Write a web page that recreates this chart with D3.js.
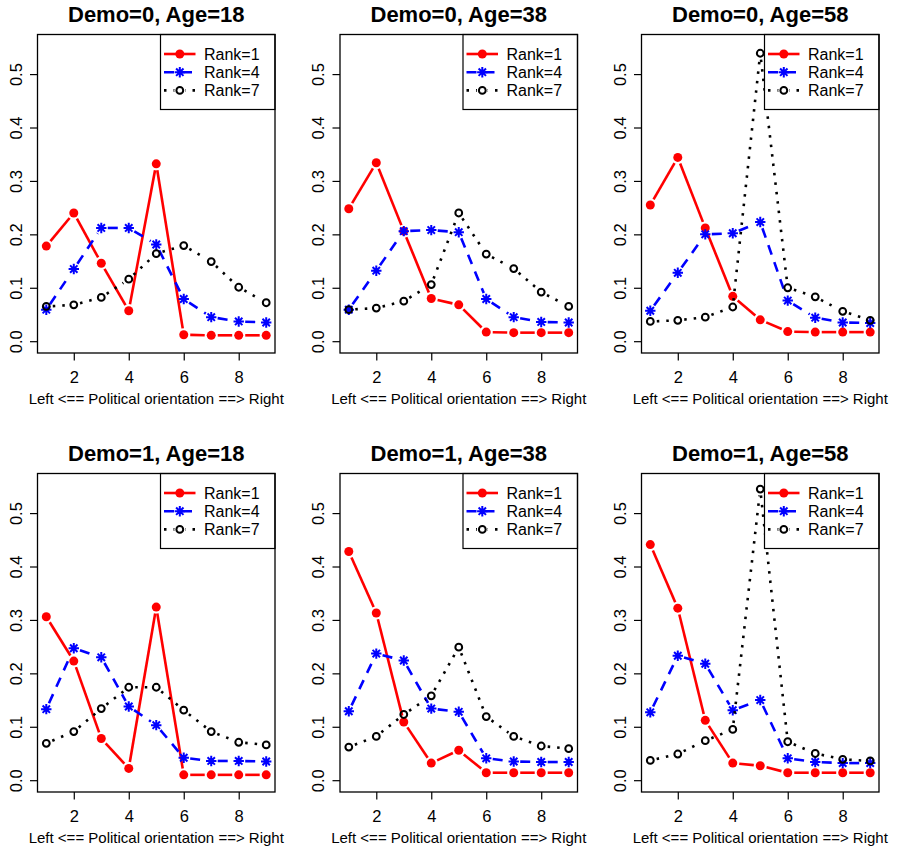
<!DOCTYPE html>
<html lang="en">
<head>
    <meta charset="UTF-8">
    <title>Political orientation by rank</title>
    <script src="https://d3js.org/d3.v7.min.js"></script>
    <style>
        body { margin: 0; background: #fff; }
        svg { display: block; font-family: "Liberation Sans", Arial, Helvetica, sans-serif; }
        .title { font-size: 22px; font-weight: bold; }
        .tick text { font-family: "Liberation Sans", Arial, sans-serif; font-size: 16.5px; fill: #000; }
        .xlab { font-size: 15px; }
        .legend text { font-size: 16px; }
    </style>
</head>
<body>
    <div id="container"></div>
    <script>
        // x positions (political orientation 1..9)
        const positions = [1, 2, 3, 4, 5, 6, 7, 8, 9];
        const rankLabels = ["Rank=1", "Rank=4", "Rank=7"];
        const panelTitles = [
            "Demo=0, Age=18", "Demo=0, Age=38", "Demo=0, Age=58",
            "Demo=1, Age=18", "Demo=1, Age=38", "Demo=1, Age=58"
        ];
        const xTicks = [2, 4, 6, 8];
        const yTicks = [0, 0.1, 0.2, 0.3, 0.4, 0.5];

        // one row per panel
        const rank1 = [
            [0.178, 0.240, 0.146, 0.057, 0.332, 0.012, 0.011, 0.011, 0.011],
            [0.248, 0.334, 0.206, 0.080, 0.068, 0.017, 0.016, 0.016, 0.016],
            [0.255, 0.344, 0.212, 0.084, 0.040, 0.018, 0.017, 0.017, 0.017],
            [0.306, 0.223, 0.078, 0.022, 0.324, 0.010, 0.010, 0.010, 0.010],
            [0.428, 0.313, 0.109, 0.032, 0.056, 0.014, 0.014, 0.014, 0.014],
            [0.441, 0.322, 0.112, 0.032, 0.027, 0.014, 0.014, 0.014, 0.014]
        ];
        const rank4 = [
            [0.059, 0.135, 0.212, 0.212, 0.181, 0.079, 0.045, 0.037, 0.035],
            [0.059, 0.132, 0.206, 0.208, 0.204, 0.079, 0.045, 0.036, 0.035],
            [0.057, 0.128, 0.200, 0.202, 0.223, 0.076, 0.044, 0.035, 0.034],
            [0.133, 0.247, 0.230, 0.138, 0.103, 0.042, 0.036, 0.036, 0.035],
            [0.129, 0.237, 0.224, 0.134, 0.128, 0.041, 0.035, 0.034, 0.034],
            [0.127, 0.233, 0.218, 0.131, 0.150, 0.041, 0.034, 0.032, 0.032]
        ];
        const rank7 = [
            [0.065, 0.068, 0.082, 0.116, 0.164, 0.179, 0.149, 0.101, 0.072],
            [0.059, 0.062, 0.075, 0.106, 0.240, 0.163, 0.136, 0.092, 0.065],
            [0.037, 0.039, 0.045, 0.064, 0.539, 0.100, 0.083, 0.056, 0.039],
            [0.069, 0.091, 0.134, 0.174, 0.174, 0.131, 0.091, 0.071, 0.066],
            [0.062, 0.082, 0.123, 0.158, 0.249, 0.119, 0.082, 0.064, 0.059],
            [0.037, 0.049, 0.074, 0.095, 0.545, 0.072, 0.050, 0.039, 0.036]
        ];

        const width = 897, height = 850;
        const colLeft = [37.5, 340, 641.5];
        const rowTop = [34.5, 473.5];
        const boxW = 237.5, boxH = 318.5;

        const styles = [
            { color: "#ff0000", dash: null, pch: "dot" },
            { color: "#0000ff", dash: "10,8", pch: "star" },
            { color: "#000000", dash: "2.5,7", pch: "circle" }
        ];

        const svg = d3.select("#container").append("svg")
            .attr("width", width).attr("height", height);

        // R-like 4% padding around data range
        const x = d3.scaleLinear().domain([0.68, 9.32]).range([0, boxW]);
        const y = d3.scaleLinear().domain([-0.0221, 0.5741]).range([boxH, 0]);

        function drawMarker(sel, pch, color) {
            if (pch === "dot") {
                sel.append("circle").attr("r", 4.5).attr("fill", color);
            } else if (pch === "star") {
                const s = 5.2, d = 3.7;
                sel.append("path")
                    .attr("d", `M${-s},0L${s},0M0,${-s}L0,${s}M${-d},${-d}L${d},${d}M${-d},${d}L${d},${-d}`)
                    .attr("stroke", color).attr("stroke-width", 2).attr("fill", "none");
            } else {
                sel.append("circle").attr("r", 3.4).attr("fill", "none")
                    .attr("stroke", color).attr("stroke-width", 2);
            }
        }

        // type="b" style: segments stop short of the points
        function gappedSegments(vals) {
            const gap = 6.5, segs = [];
            for (let i = 0; i < vals.length - 1; i++) {
                const x1 = x(positions[i]), y1 = y(vals[i]);
                const x2 = x(positions[i + 1]), y2 = y(vals[i + 1]);
                const len = Math.hypot(x2 - x1, y2 - y1);
                if (len <= 2 * gap) continue;
                const ux = (x2 - x1) / len, uy = (y2 - y1) / len;
                segs.push([x1 + ux * gap, y1 + uy * gap, x2 - ux * gap, y2 - uy * gap]);
            }
            return segs;
        }

        panelTitles.forEach((title, p) => {
            const col = p % 3, row = Math.floor(p / 3);
            const g = svg.append("g")
                .attr("transform", `translate(${colLeft[col]},${rowTop[row]})`);

            const series = [rank1[p], rank4[p], rank7[p]];

            series.forEach((vals, k) => {
                const st = styles[k];
                g.append("g").selectAll("line")
                    .data(gappedSegments(vals))
                    .join("line")
                    .attr("x1", d => d[0]).attr("y1", d => d[1])
                    .attr("x2", d => d[2]).attr("y2", d => d[3])
                    .attr("stroke", st.color)
                    .attr("stroke-width", 2.6)
                    .attr("stroke-dasharray", st.dash);

                g.append("g").selectAll("g")
                    .data(vals)
                    .join("g")
                    .attr("transform", (d, i) => `translate(${x(positions[i])},${y(d)})`)
                    .each(function() { drawMarker(d3.select(this), st.pch, st.color); });
            });

            // legend, top right, white background
            const lw = 114.5, lh = 75;
            const leg = g.append("g").attr("class", "legend")
                .attr("transform", `translate(${boxW - lw},0)`);
            leg.append("rect").attr("width", lw).attr("height", lh)
                .attr("fill", "#fff").attr("stroke", "#000").attr("stroke-width", 1.2);
            rankLabels.forEach((lab, k) => {
                const st = styles[k];
                const ly = 19.5 + k * 18.2;
                leg.append("line")
                    .attr("x1", 3.5).attr("x2", 35).attr("y1", ly).attr("y2", ly)
                    .attr("stroke", st.color).attr("stroke-width", 2.6)
                    .attr("stroke-dasharray", st.dash);
                const m = leg.append("g").attr("transform", `translate(19.3,${ly})`);
                if (st.pch === "circle") {
                    m.append("circle").attr("r", 5.5).attr("fill", "#fff");
                }
                drawMarker(m, st.pch, st.color);
                leg.append("text").attr("x", 43.5).attr("y", ly + 5.8).text(lab);
            });

            // axes
            const xa = g.append("g")
                .attr("transform", `translate(0,${boxH})`)
                .call(d3.axisBottom(x).tickValues(xTicks).tickSize(7.5));
            xa.select(".domain").remove();
            xa.selectAll(".tick line").attr("stroke-width", 1.2);
            xa.selectAll(".tick text").attr("y", 30).attr("dy", 0);

            const ya = g.append("g")
                .call(d3.axisLeft(y).tickValues(yTicks).tickSize(7.5).tickFormat(d3.format(".1f")));
            ya.select(".domain").remove();
            ya.selectAll(".tick line").attr("stroke-width", 1.2);
            ya.selectAll(".tick text")
                .attr("transform", "rotate(-90)")
                .attr("x", 0).attr("y", -16).attr("dy", 0)
                .attr("text-anchor", "middle");

            // plot box
            g.append("rect").attr("width", boxW).attr("height", boxH)
                .attr("fill", "none").attr("stroke", "#000").attr("stroke-width", 1.3);

            g.append("text").attr("class", "title")
                .attr("x", boxW / 2).attr("y", -12.5)
                .attr("text-anchor", "middle").text(title);

            g.append("text").attr("class", "xlab")
                .attr("x", boxW / 2).attr("y", boxH + 50.5)
                .attr("text-anchor", "middle")
                .text("Left <== Political orientation ==> Right");
        });
    </script>
</body>
</html>
